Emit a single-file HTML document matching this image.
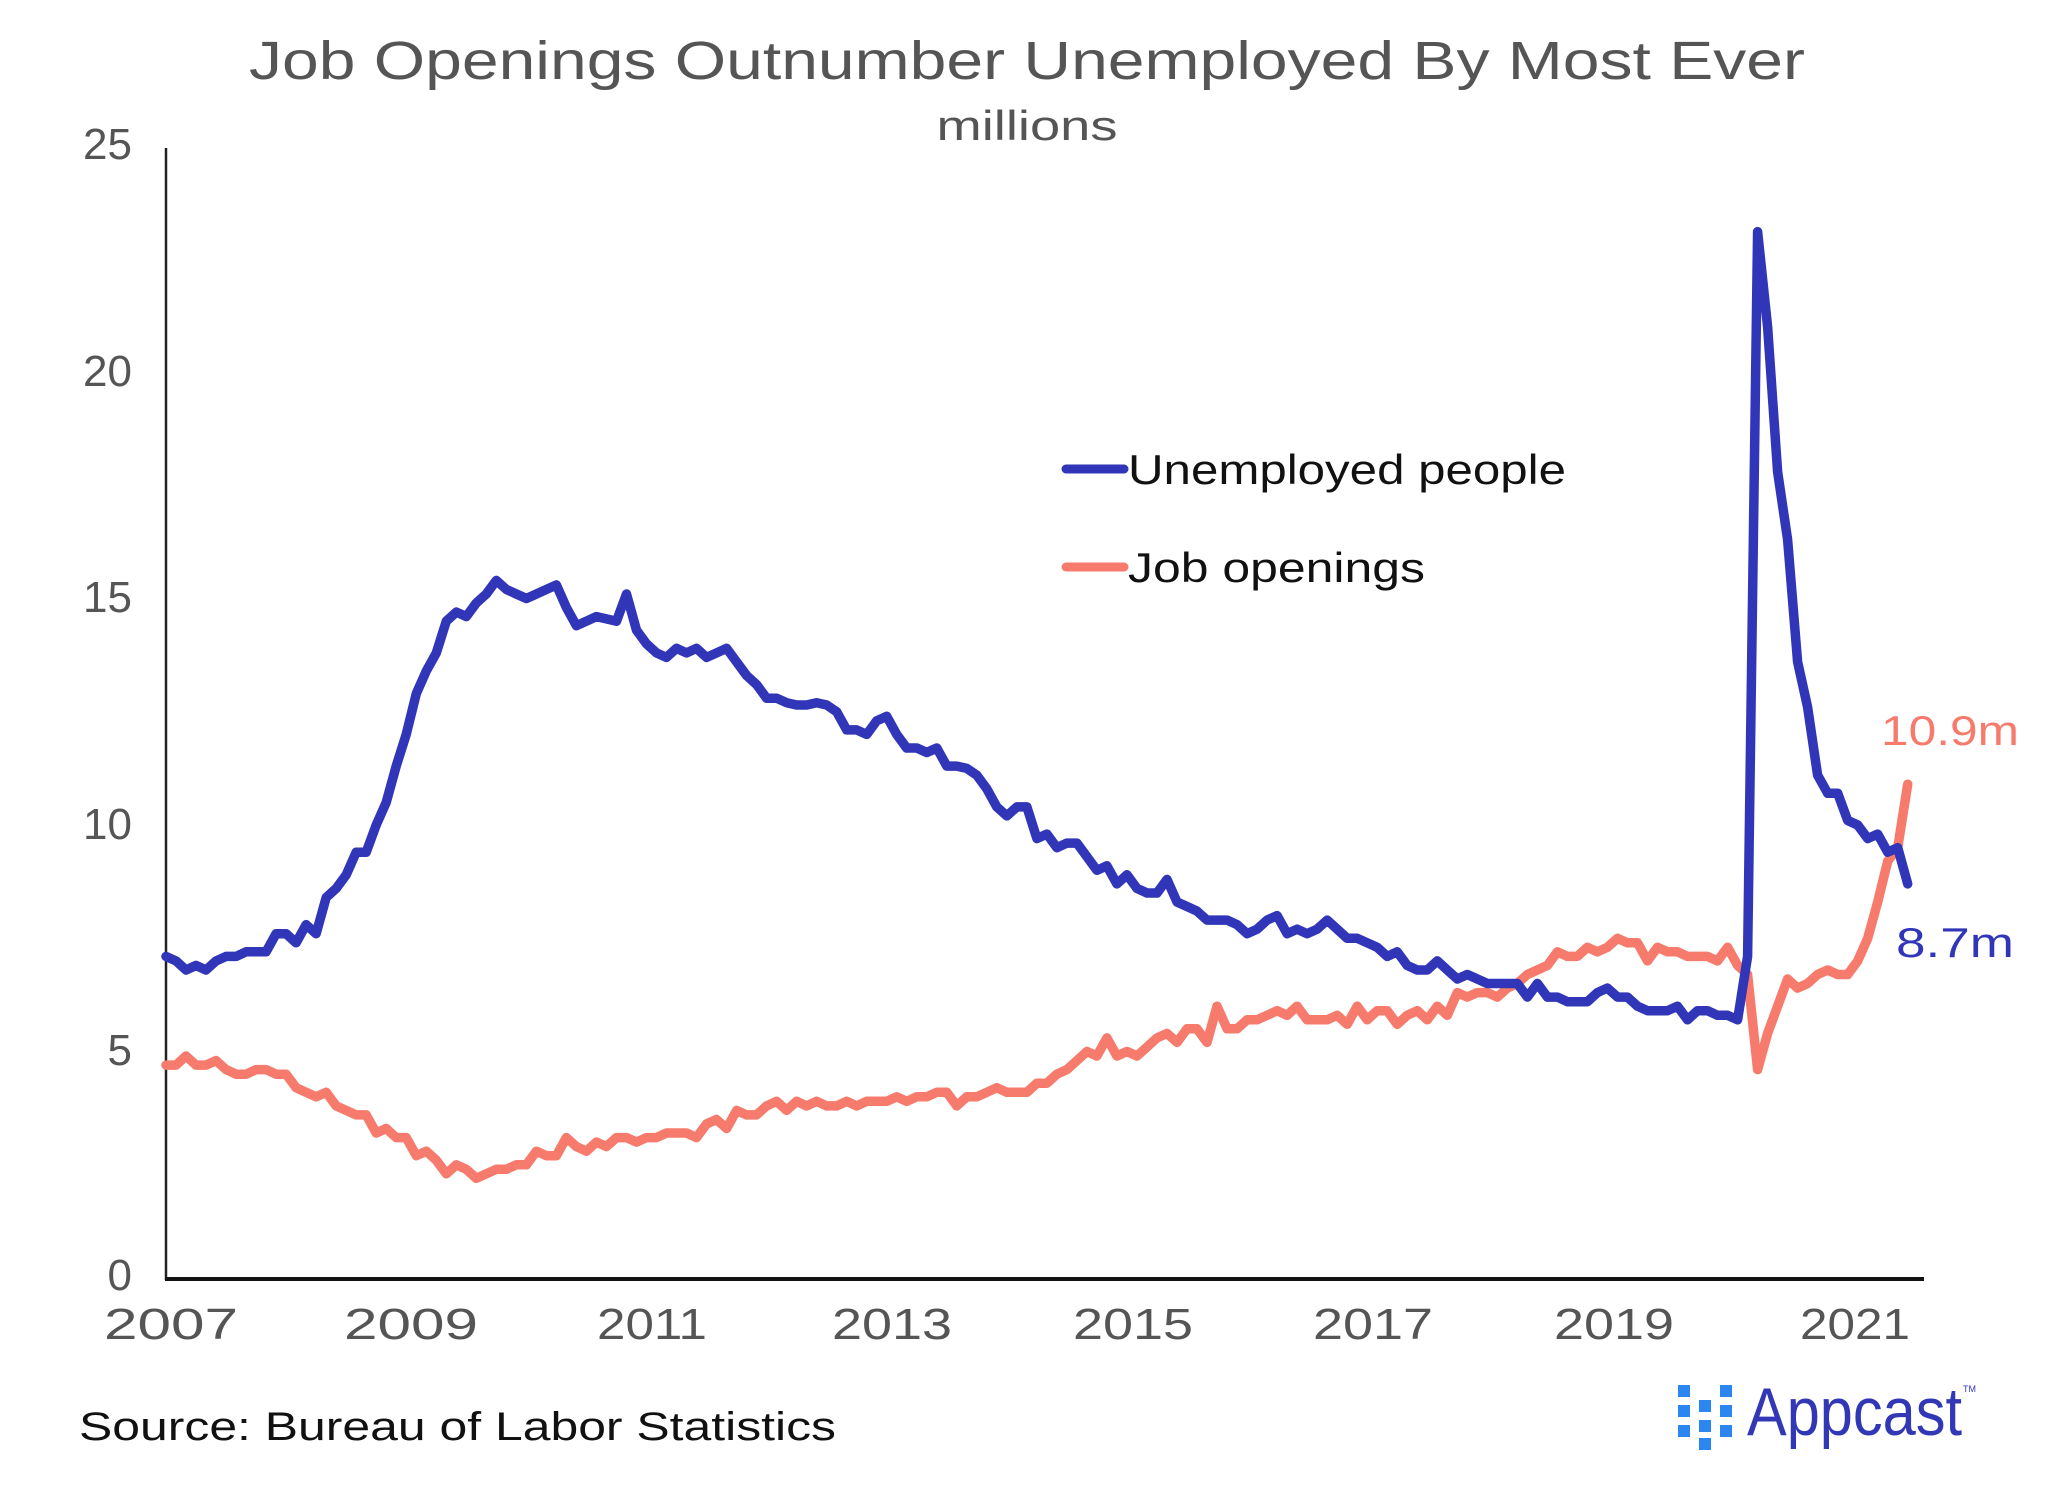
<!DOCTYPE html>
<html><head><meta charset="utf-8"><style>
html,body{margin:0;padding:0;background:#fff;width:2048px;height:1485px;overflow:hidden}
svg{display:block}
text{font-family:"Liberation Sans",sans-serif}
</style></head><body>
<svg id="c" width="2048" height="1485" viewBox="0 0 2048 1485" xmlns="http://www.w3.org/2000/svg">
<rect width="2048" height="1485" fill="#fff"/>
<text x="1027" y="79" text-anchor="middle" font-size="54" fill="#555" textLength="1556" lengthAdjust="spacingAndGlyphs">Job Openings Outnumber Unemployed By Most Ever</text>
<text x="1027" y="140" text-anchor="middle" font-size="42" fill="#555" textLength="181" lengthAdjust="spacingAndGlyphs">millions</text>
<g font-size="44" fill="#555" text-anchor="end">
<text x="132" y="159">25</text>
<text x="132" y="386">20</text>
<text x="132" y="612">15</text>
<text x="132" y="839">10</text>
<text x="132" y="1065">5</text>
<text x="132" y="1290">0</text>
</g>
<g font-size="44" fill="#555" text-anchor="middle">
<text x="171" y="1339" textLength="134" lengthAdjust="spacingAndGlyphs">2007</text>
<text x="411" y="1339" textLength="134" lengthAdjust="spacingAndGlyphs">2009</text>
<text x="652" y="1339" textLength="110" lengthAdjust="spacingAndGlyphs">2011</text>
<text x="892" y="1339" textLength="120" lengthAdjust="spacingAndGlyphs">2013</text>
<text x="1133" y="1339" textLength="120" lengthAdjust="spacingAndGlyphs">2015</text>
<text x="1373" y="1339" textLength="120" lengthAdjust="spacingAndGlyphs">2017</text>
<text x="1614" y="1339" textLength="120" lengthAdjust="spacingAndGlyphs">2019</text>
<text x="1855" y="1339" textLength="110" lengthAdjust="spacingAndGlyphs">2021</text>
</g>
<line x1="166" y1="148" x2="166" y2="1280" stroke="#222" stroke-width="2.5"/>
<line x1="165" y1="1279" x2="1924" y2="1279" stroke="#111" stroke-width="4"/>
<polyline id="jo" fill="none" stroke="#f77b6c" stroke-width="9.5" stroke-linejoin="round" stroke-linecap="round"/>
<polyline id="un" fill="none" stroke="#3136b8" stroke-width="9.5" stroke-linejoin="round" stroke-linecap="round"/>
<line x1="1066" y1="469" x2="1124" y2="469" stroke="#3136b8" stroke-width="9" stroke-linecap="round"/>
<line x1="1066" y1="567" x2="1124" y2="567" stroke="#f77b6c" stroke-width="9" stroke-linecap="round"/>
<text x="1128" y="484" font-size="42" fill="#111" textLength="438" lengthAdjust="spacingAndGlyphs">Unemployed people</text>
<text x="1128" y="582" font-size="42" fill="#111" textLength="297" lengthAdjust="spacingAndGlyphs">Job openings</text>
<text x="1950" y="745" text-anchor="middle" font-size="42" fill="#f77b6c" textLength="138" lengthAdjust="spacingAndGlyphs">10.9m</text>
<text x="1955" y="957" text-anchor="middle" font-size="42" fill="#3136b8" textLength="118" lengthAdjust="spacingAndGlyphs">8.7m</text>
<text x="79" y="1440" font-size="40" fill="#111" textLength="757" lengthAdjust="spacingAndGlyphs">Source: Bureau of Labor Statistics</text>
<g fill="#2b86f0">
<rect x="1678" y="1385" width="12" height="12"/><rect x="1678" y="1405" width="12" height="12"/><rect x="1678" y="1425" width="12" height="12"/>
<rect x="1699" y="1400" width="12" height="12"/><rect x="1699" y="1420" width="12" height="12"/><rect x="1699" y="1438" width="12" height="12"/>
<rect x="1720" y="1385" width="12" height="12"/><rect x="1720" y="1405" width="12" height="12"/><rect x="1720" y="1425" width="12" height="12"/>
</g>
<text x="1747" y="1435" font-size="68" fill="#3238b5" textLength="215" lengthAdjust="spacingAndGlyphs">Appcast</text>
<text x="1963" y="1392" font-size="9" fill="#3238b5">TM</text>
</svg>
<script>
var un=[7.1,7.0,6.8,6.9,6.8,7.0,7.1,7.1,7.2,7.2,7.2,7.6,
7.6,7.4,7.8,7.6,8.4,8.6,8.9,9.4,9.4,10.0,10.5,11.3,
12.0,12.9,13.4,13.8,14.5,14.7,14.6,14.9,15.1,15.4,15.2,15.1,
15.0,15.1,15.2,15.3,14.8,14.4,14.5,14.6,14.55,14.5,15.1,14.3,
14.0,13.8,13.7,13.9,13.8,13.9,13.7,13.8,13.9,13.6,13.3,13.1,
12.8,12.8,12.7,12.65,12.65,12.7,12.65,12.5,12.1,12.1,12.0,12.3,
12.4,12.0,11.7,11.7,11.6,11.7,11.3,11.3,11.25,11.1,10.8,10.4,
10.2,10.4,10.4,9.7,9.8,9.5,9.6,9.6,9.3,9.0,9.1,8.7,
8.9,8.6,8.5,8.5,8.8,8.3,8.2,8.1,7.9,7.9,7.9,7.8,
7.6,7.7,7.9,8.0,7.6,7.7,7.6,7.7,7.9,7.7,7.5,7.5,
7.4,7.3,7.1,7.2,6.9,6.8,6.8,7.0,6.8,6.6,6.7,6.6,
6.5,6.5,6.5,6.5,6.2,6.5,6.2,6.2,6.1,6.1,6.1,6.3,
6.4,6.2,6.2,6.0,5.9,5.9,5.9,6.0,5.7,5.9,5.9,5.8,
5.8,5.7,7.1,23.1,21.0,17.8,16.3,13.6,12.6,11.1,10.7,10.7,
10.1,10.0,9.7,9.8,9.4,9.5,8.7];
var jo=[4.7,4.7,4.9,4.7,4.7,4.8,4.6,4.5,4.5,4.6,4.6,4.5,
4.5,4.2,4.1,4.0,4.1,3.8,3.7,3.6,3.6,3.2,3.3,3.1,
3.1,2.7,2.8,2.6,2.3,2.5,2.4,2.2,2.3,2.4,2.4,2.5,
2.5,2.8,2.7,2.7,3.1,2.9,2.8,3.0,2.9,3.1,3.1,3.0,
3.1,3.1,3.2,3.2,3.2,3.1,3.4,3.5,3.3,3.7,3.6,3.6,
3.8,3.9,3.7,3.9,3.8,3.9,3.8,3.8,3.9,3.8,3.9,3.9,
3.9,4.0,3.9,4.0,4.0,4.1,4.1,3.8,4.0,4.0,4.1,4.2,
4.1,4.1,4.1,4.3,4.3,4.5,4.6,4.8,5.0,4.9,5.3,4.9,
5.0,4.9,5.1,5.3,5.4,5.2,5.5,5.5,5.2,6.0,5.5,5.5,
5.7,5.7,5.8,5.9,5.8,6.0,5.7,5.7,5.7,5.8,5.6,6.0,
5.7,5.9,5.9,5.6,5.8,5.9,5.7,6.0,5.8,6.3,6.2,6.3,
6.3,6.2,6.4,6.5,6.7,6.8,6.9,7.2,7.1,7.1,7.3,7.2,
7.3,7.5,7.4,7.4,7.0,7.3,7.2,7.2,7.1,7.1,7.1,7.0,
7.3,6.9,6.7,4.6,5.4,6.0,6.6,6.4,6.5,6.7,6.8,6.7,
6.7,7.0,7.5,8.3,9.2,9.5,10.9];
function pts(a){return a.map(function(v,i){return (166+i*10.01).toFixed(1)+","+(1278-45.3*v).toFixed(1)}).join(" ")}
document.getElementById("un").setAttribute("points",pts(un));
document.getElementById("jo").setAttribute("points",pts(jo));
</script>
</body></html>
